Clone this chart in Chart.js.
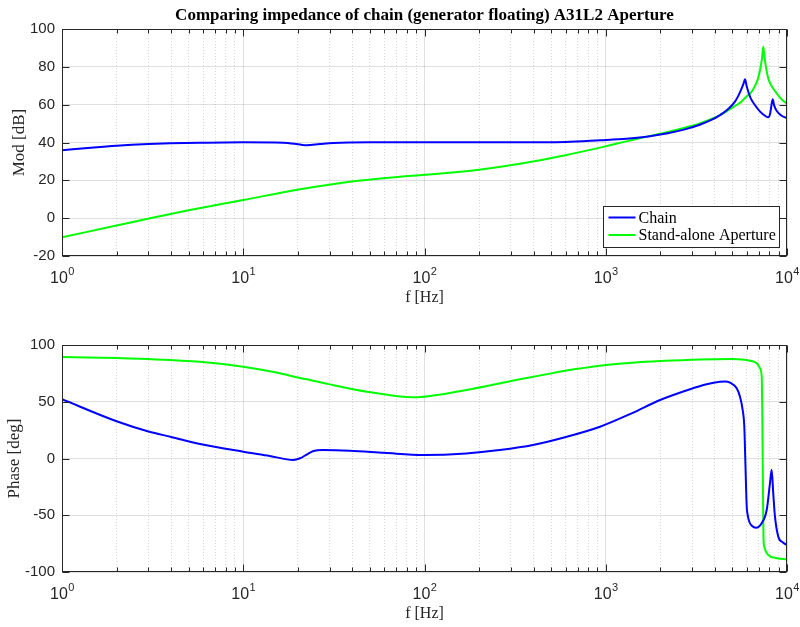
<!DOCTYPE html>
<html>
<head>
<meta charset="utf-8">
<script src="https://cdn.jsdelivr.net/npm/chart.js@4/dist/chart.umd.min.js"></script>
<style>
  html, body { margin: 0; padding: 0; background: #ffffff; }
  #wrap { position: relative; width: 800px; height: 627px; }
  #modChart { position: absolute; left: 0; top: 0; }
  #phaseChart { position: absolute; left: 0; top: 313px; }
</style>
</head>
<body>
<div id="wrap">
  <canvas id="modChart" width="800" height="313"></canvas>
  <canvas id="phaseChart" width="800" height="314"></canvas>
</div>
<script>
// ---- Impedance modulus [dB] ----
const chainModFreq = [1, 1.5, 2, 3, 3.94, 6, 10, 16.6, 20.6, 22.4, 26.5, 31.4, 50, 73, 150, 300, 600, 930, 1300, 1682,
  2200, 2700, 3300, 3800, 4271, 4700, 5165, 5500, 5750, 5866, 6000, 6300, 6650, 7100, 7600, 7886, 8080, 8337, 8500, 8800,
  9300, 10000];
const chainMod = [35.9, 37.4, 38.3, 39.2, 39.6, 39.9, 40.1, 39.9, 38.9, 38.5, 39.2, 39.8, 40.1, 40.1, 40.1, 40.1, 40.3, 41.2, 42.0, 43.1,
  44.9, 46.8, 49.4, 51.8, 54.5, 57.5, 61.6, 66.5, 71.0, 73.4, 69.5, 63.5, 59.8, 56.3, 54.0, 53.3, 55.5, 62.8, 59.5, 56.5,
  54.3, 52.8];

const apertureModFreq = [1, 2, 3.06, 5, 10, 20.6, 38.7, 73, 100, 200, 397, 600, 930, 1300, 1682, 2200, 2700, 3300, 3800, 4271,
  4700, 5165, 5600, 6000, 6260, 6650, 6900, 7100, 7280, 7400, 7550, 7850, 8100, 8850, 9300, 10000];
const apertureMod = [-10.1, -3.9, 0.0, 4.2, 9.6, 15.3, 19.3, 21.9, 22.9, 25.6, 30.0, 33.3, 37.3, 40.6, 43.1, 45.6, 47.7, 50.1, 52.3, 54.5,
  56.8, 59.3, 61.5, 64.5, 65.8, 69.8, 73.5, 78.3, 84.5, 90.6, 83.5, 74.5, 71.0, 65.5, 63.0, 60.4];

// ---- Impedance phase [deg] ----
const chainPhaseFreq = [1, 2, 3, 4, 5.77, 10, 14, 18.9, 20.6, 22.4, 24.4, 27.5, 38.7, 60, 98.5, 170, 260, 397, 610,
  930, 1400, 1993, 2917, 3600, 4267, 4550, 4849, 5278, 5505, 5696, 5814, 5888, 5995, 6050, 6194, 6400, 6745, 7247, 7727, 8054,
  8232, 8397, 8584, 8954, 9500, 10000];
const chainPhase = [52.2, 32.8, 23.8, 19.0, 12.8, 6.0, 2.3, -1.3, 0.2, 3.5, 6.6, 7.5, 6.9, 5.0, 3.1, 4.5, 7.5, 11.9, 19.2,
  28.0, 40.0, 51.5, 61.0, 65.4, 67.6, 67.8, 66.8, 61.8, 54.4, 42.7, 28.0, -1.3, -42.5, -48.5, -55.7, -59.3, -61.0, -57.0, -45.4, -21.9,
  -9.9, -30.7, -51.3, -68.9, -74.0, -76.2];

const aperturePhaseFreq = [1, 1.62, 3, 5.77, 10, 15, 20.6, 23.4, 30, 48, 86.5, 170, 320, 500, 700, 930, 1400, 2000, 3300, 5000,
  6260, 6805, 7097, 7252, 7300, 7344, 7380, 7420, 7500, 7886, 8800, 10000];
const aperturePhase = [89.4, 88.8, 87.6, 85.3, 80.9, 76.0, 70.9, 69.2, 65.3, 58.9, 53.9, 60.4, 69.2, 75.0, 79.0, 81.8, 84.3, 85.8, 87.3, 87.7,
  86.2, 83.9, 79.5, 72.0, 45.0, 0, -40.0, -70.0, -78.0, -85.0, -87.8, -88.8];

// ---- Axis ticks ----
const decadeTicks = [1, 10, 100, 1000, 10000];
const decadeExponents = ['0', '1', '2', '3', '4'];
const minorTicks = [2, 3, 4, 5, 6, 7, 8, 9, 20, 30, 40, 50, 60, 70, 80, 90,
  200, 300, 400, 500, 600, 700, 800, 900, 2000, 3000, 4000, 5000, 6000, 7000, 8000, 9000];
const modTicks = [-20, 0, 20, 40, 60, 80, 100];
const phaseTicks = [-100, -50, 0, 50, 100];

const seriesNames = ['Chain', 'Stand-alone Aperture'];
const seriesColors = ['#0000ff', '#00ff00'];

const SERIF = '"Liberation Serif", "Times New Roman", serif';
const SANS = '"Liberation Sans", Arial, Helvetica, sans-serif';
const INK = '#262626';

function pairs(xs, ys) { return xs.map((x, i) => ({ x: x, y: ys[i] })); }

// Inward ticks, box frame, decade labels, axis labels, title and legend
const matlabDecor = {
  id: 'matlabDecor',
  afterDatasetsDraw(chart, args, o) {
    const ctx = chart.ctx, a = chart.chartArea;
    const xs = chart.scales.x, ys = chart.scales.y;
    ctx.save();
    ctx.strokeStyle = INK;
    ctx.lineWidth = 1;
    ctx.beginPath();
    const L = Math.round(a.left) + 0.5, R = Math.round(a.right) - 0.5;
    const T = Math.round(a.top) + 0.5, B = Math.round(a.bottom) - 0.5;
    decadeTicks.forEach(v => {
      const px = Math.round(xs.getPixelForValue(v)) + 0.5;
      ctx.moveTo(px, B); ctx.lineTo(px, B - 7);
      ctx.moveTo(px, T); ctx.lineTo(px, T + 7);
    });
    minorTicks.forEach(v => {
      const px = Math.round(xs.getPixelForValue(v)) + 0.5;
      ctx.moveTo(px, B); ctx.lineTo(px, B - 4);
      ctx.moveTo(px, T); ctx.lineTo(px, T + 4);
    });
    ys.ticks.forEach(t => {
      const py = Math.round(ys.getPixelForValue(t.value)) + 0.5;
      ctx.moveTo(L, py); ctx.lineTo(L + 7, py);
      ctx.moveTo(R, py); ctx.lineTo(R - 7, py);
    });
    ctx.stroke();
    ctx.strokeRect(L, T, R - L, B - T);

    // decade labels 10^k
    ctx.fillStyle = INK;
    ctx.textBaseline = 'alphabetic';
    ctx.textAlign = 'left';
    decadeTicks.forEach((v, i) => {
      const px = xs.getPixelForValue(v);
      ctx.font = '16px ' + SANS;
      const w1 = ctx.measureText('10').width;
      ctx.font = '11px ' + SANS;
      const w2 = ctx.measureText(decadeExponents[i]).width;
      const x0 = px - (w1 + w2) / 2;
      const base = a.bottom + 27;
      ctx.font = '16px ' + SANS;
      ctx.fillText('10', x0, base);
      ctx.font = '11px ' + SANS;
      ctx.fillText(decadeExponents[i], x0 + w1 + 0.5, base - 8);
    });

    // axis labels
    ctx.textAlign = 'center';
    ctx.textBaseline = 'middle';
    ctx.font = '16px ' + SERIF;
    ctx.fillText(o.xLabel, (a.left + a.right) / 2, a.bottom + 42);
    ctx.save();
    ctx.font = '17px ' + SERIF;
    ctx.translate(o.yLabelX, (a.top + a.bottom) / 2);
    ctx.rotate(-Math.PI / 2);
    ctx.fillText(o.yLabel, 0, 0);
    ctx.restore();

    if (o.title) {
      ctx.fillStyle = '#000000';
      ctx.font = 'bold 17px ' + SERIF;
      ctx.textBaseline = 'alphabetic';
      ctx.fillText(o.title, (a.left + a.right) / 2, 20);
    }

    if (o.legend) {
      const bx = 603.5, by = 206.5, bw = 176, bh = 41;
      ctx.fillStyle = '#ffffff';
      ctx.fillRect(bx, by, bw, bh);
      ctx.strokeStyle = INK;
      ctx.lineWidth = 1;
      ctx.strokeRect(bx, by, bw, bh);
      ctx.font = '16px ' + SERIF;
      ctx.textAlign = 'left';
      ctx.textBaseline = 'middle';
      chart.data.datasets.forEach((ds, i) => {
        const ly = by + 11 + i * 17.5;
        ctx.strokeStyle = ds.borderColor;
        ctx.lineWidth = 2;
        ctx.beginPath();
        ctx.moveTo(bx + 5, ly); ctx.lineTo(bx + 32, ly);
        ctx.stroke();
        ctx.fillStyle = '#000000';
        ctx.fillText(ds.label, bx + 35, ly + 1);
      });
    }
    ctx.restore();
  }
};

function makeChart(canvasId, series, yMin, yMax, yTicks, bottomSpace, decor) {
  return new Chart(document.getElementById(canvasId), {
    type: 'line',
    data: {
      datasets: series.map((s, i) => ({
        label: seriesNames[i],
        data: s,
        borderColor: seriesColors[i],
        backgroundColor: seriesColors[i],
        borderWidth: 2,
        pointRadius: 0,
        fill: false,
        cubicInterpolationMode: 'monotone'
      }))
    },
    options: {
      responsive: false,
      animation: false,
      layout: { padding: { top: decor.topPad, right: 13, left: 0, bottom: 0 } },
      plugins: {
        legend: { display: false },
        title: { display: false },
        tooltip: { enabled: false },
        matlabDecor: decor
      },
      scales: {
        x: {
          type: 'logarithmic',
          position: 'bottom',
          min: 1, max: 10000,
          afterBuildTicks: sc => { sc.ticks = decadeTicks.map(v => ({ value: v })); },
          afterFit: sc => { sc.height = bottomSpace; },
          ticks: { display: false },
          grid: { color: 'rgba(38,38,38,0.15)', lineWidth: 1, drawTicks: false },
          border: { display: false }
        },
        xMinor: {
          type: 'logarithmic',
          position: 'bottom',
          min: 1, max: 10000,
          afterBuildTicks: sc => { sc.ticks = minorTicks.map(v => ({ value: v })); },
          afterFit: sc => { sc.height = 0; },
          ticks: { display: false },
          grid: { color: 'rgba(38,38,38,0.17)', lineWidth: 1, drawTicks: false },
          border: { display: false, dash: [1, 2] }
        },
        y: {
          type: 'linear',
          min: yMin, max: yMax,
          afterBuildTicks: sc => { sc.ticks = yTicks.map(v => ({ value: v })); },
          afterFit: sc => { sc.width = 62; },
          ticks: { color: INK, font: { family: SANS, size: 15 }, padding: 7 },
          grid: { color: 'rgba(38,38,38,0.15)', lineWidth: 1, drawTicks: false },
          border: { display: false }
        }
      }
    },
    plugins: [matlabDecor]
  });
}

makeChart('modChart',
  [pairs(chainModFreq, chainMod), pairs(apertureModFreq, apertureMod)],
  -20, 100, modTicks, 57,
  { topPad: 29, title: 'Comparing impedance of chain (generator floating) A31L2 Aperture',
    xLabel: 'f [Hz]', yLabel: 'Mod [dB]', yLabelX: 20, legend: true });

makeChart('phaseChart',
  [pairs(chainPhaseFreq, chainPhase), pairs(aperturePhaseFreq, aperturePhase)],
  -100, 100, phaseTicks, 55,
  { topPad: 32, xLabel: 'f [Hz]', yLabel: 'Phase [deg]', yLabelX: 15, legend: false });
</script>
</body>
</html>
